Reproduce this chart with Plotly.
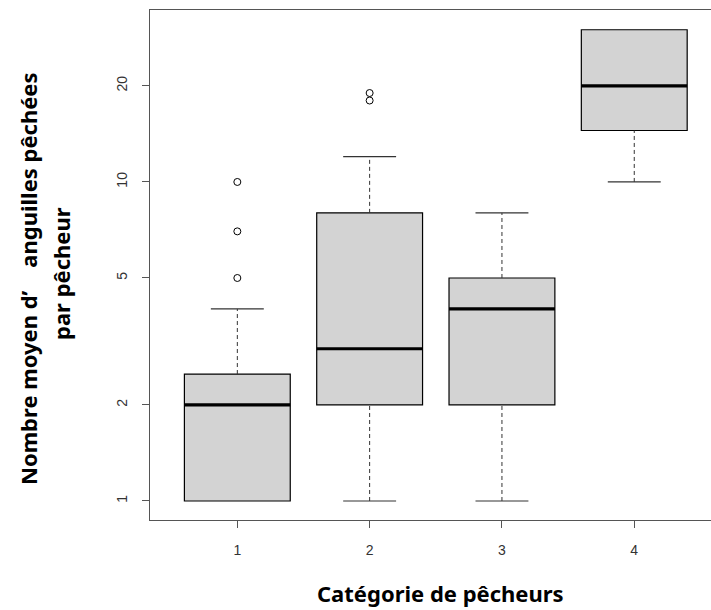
import plotly.graph_objects as go

categories = [1, 2, 3, 4]
q1 = [1, 2, 2, 14.5]
median = [2, 3, 4, 20]
q3 = [2.5, 8, 5, 30]
whisker_low = [1, 1, 1, 10]
whisker_high = [4, 12, 8, 30]
outlier_cat = [1, 1, 1, 2, 2]
outlier_val = [5, 7, 10, 18, 19]
tick_vals_y = [1, 2, 5, 10, 20]

box_w = 0.8
cap_w = 0.4

W, H = 711, 610
L, R, T, B = 150, 0, 10, 90
pw, ph = W - L - R, H - T - B


def px2paper(x, y):
    return (x - L) / pw, (H - B - y) / ph


fig = go.Figure()

fig.add_trace(go.Box(
    x=categories, q1=q1, median=median, q3=q3,
    lowerfence=q1, upperfence=q3,
    width=box_w, fillcolor="#D3D3D3",
    line=dict(color="black", width=1.2),
    boxpoints=False, showlegend=False, hoverinfo="skip"))

wx, wy = [], []
for c, a, b, lo, hi in zip(categories, q1, q3, whisker_low, whisker_high):
    if lo < a:
        wx += [c, c, None]; wy += [lo, a, None]
    if hi > b:
        wx += [c, c, None]; wy += [b, hi, None]
fig.add_trace(go.Scatter(x=wx, y=wy, mode="lines",
                         line=dict(color="#333333", width=1, dash="4px,3px"),
                         showlegend=False, hoverinfo="skip"))

cx, cy = [], []
for c, a, b, lo, hi in zip(categories, q1, q3, whisker_low, whisker_high):
    if lo < a:
        cx += [c - cap_w / 2, c + cap_w / 2, None]; cy += [lo, lo, None]
    if hi > b:
        cx += [c - cap_w / 2, c + cap_w / 2, None]; cy += [hi, hi, None]
fig.add_trace(go.Scatter(x=cx, y=cy, mode="lines",
                         line=dict(color="#333333", width=1.2),
                         showlegend=False, hoverinfo="skip"))

mx, my = [], []
for c, m in zip(categories, median):
    mx += [c - box_w / 2, c + box_w / 2, None]; my += [m, m, None]
fig.add_trace(go.Scatter(x=mx, y=my, mode="lines",
                         line=dict(color="black", width=3.2),
                         showlegend=False, hoverinfo="skip"))

fig.add_trace(go.Scatter(x=outlier_cat, y=outlier_val, mode="markers",
                         marker=dict(symbol="circle-open", size=7,
                                     color="black", line=dict(width=1)),
                         showlegend=False, hoverinfo="skip"))

tick_font = dict(family="Liberation Sans, Arial", size=14, color="#333333")
title_font = dict(family="Noto Sans, Open Sans", size=22, color="black")

ax1, ay1 = px2paper(440, 593)
bx1, by1 = px2paper(28, 279)
bx2, by2 = px2paper(61, 274)

fig.update_layout(
    width=W, height=H,
    margin=dict(l=L, r=R, t=T, b=B),
    plot_bgcolor="white", paper_bgcolor="white",
    xaxis=dict(range=[0.34, 4.58], tickmode="array", tickvals=categories,
               ticktext=[str(c) for c in categories],
               showgrid=False, zeroline=False,
               showline=True, linecolor="#555555", linewidth=1.2, mirror=True,
               ticks="outside", ticklen=7, tickcolor="#555555",
               tickfont=tick_font, ticklabelstandoff=10),
    yaxis=dict(type="log", range=[-0.0596, 1.539], tickmode="array",
               tickvals=tick_vals_y, ticktext=[str(v) for v in tick_vals_y],
               showgrid=False, zeroline=False,
               showline=True, linecolor="#555555", linewidth=1.2, mirror=False,
               ticks="outside", ticklen=7, tickcolor="#555555",
               tickangle=-90, tickfont=tick_font, ticklabelstandoff=9),
    annotations=[
        dict(text="<b>Catégorie de pêcheurs</b>", x=ax1, y=ay1,
             xref="paper", yref="paper", xanchor="center", yanchor="middle",
             showarrow=False, font=title_font),
        dict(text="<b>Nombre moyen d’\u00a0\u00a0\u00a0 anguilles pêchées</b>",
             x=bx1, y=by1, xref="paper", yref="paper",
             xanchor="center", yanchor="middle",
             textangle=-90, showarrow=False, font=title_font),
        dict(text="<b>par pêcheur</b>",
             x=bx2, y=by2, xref="paper", yref="paper",
             xanchor="center", yanchor="middle",
             textangle=-90, showarrow=False, font=title_font),
    ],
)

fig.write_html("out.html", config={"displayModeBar": False},
               post_script="document.body.style.margin='0';")
